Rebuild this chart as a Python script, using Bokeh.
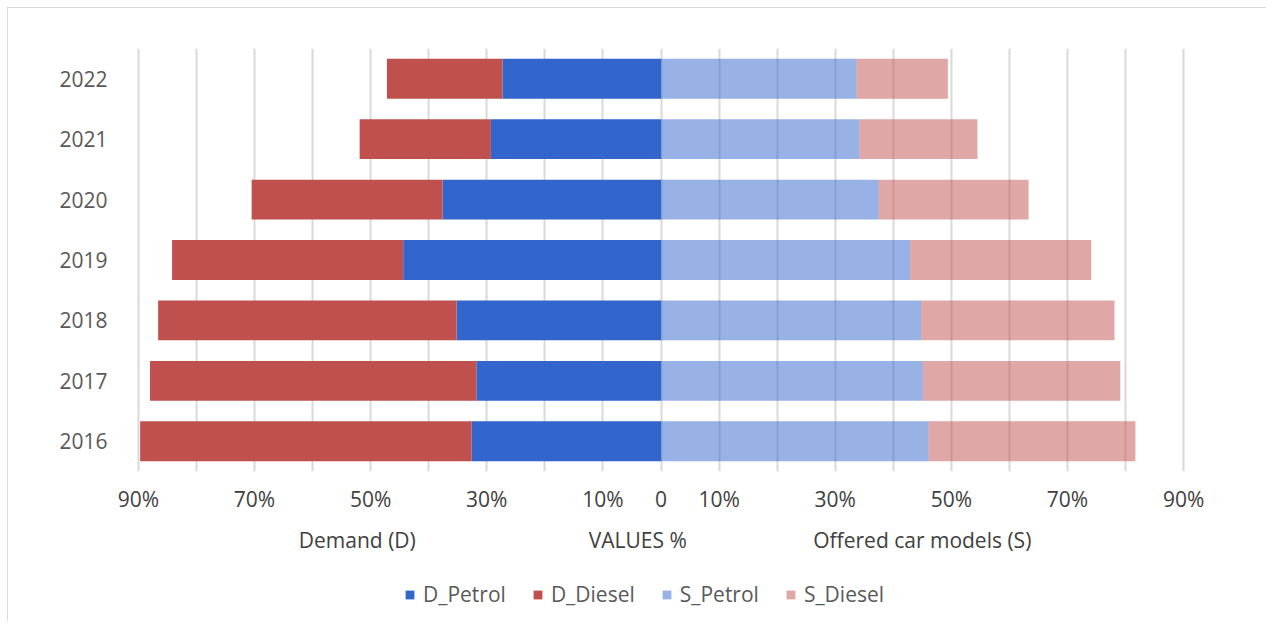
from bokeh.plotting import figure
from bokeh.layouts import column
from bokeh.models import (FactorRange, Range1d, FixedTicker, CustomJSTickFormatter,
                          LinearAxis, Legend, LegendItem, ColumnDataSource)
from bokeh.embed import file_html
from bokeh.resources import INLINE

# ---- data (percent) ----
years = ["2016", "2017", "2018", "2019", "2020", "2021", "2022"]
d_petrol = [32.6, 31.8, 35.2, 44.4, 37.6, 29.3, 27.3]
d_diesel = [57.1, 56.2, 51.4, 39.8, 32.9, 22.6, 19.9]
s_petrol = [46.1, 45.1, 44.8, 42.9, 37.5, 34.2, 33.7]
s_diesel = [35.6, 34.0, 33.3, 31.2, 25.8, 20.3, 15.7]

series_names = ["D_Petrol", "D_Diesel", "S_Petrol", "S_Diesel"]
tick_values = [-90, -70, -50, -30, -10, 0, 10, 30, 50, 70, 90]
grid_values = list(range(-90, 91, 10))
title_labels = ["Demand (D)", "VALUES %", "Offered car models (S)"]
title_positions = [-52.3, -4.0, 45.0]

C_PETROL = "#3366CC"
C_DIESEL = "#C0504D"
FONT = "Open Sans"
FS = "21px"

src = ColumnDataSource(dict(
    year=years,
    d_petrol=[-v for v in d_petrol],
    d_diesel=[-v for v in d_diesel],
    s_petrol=s_petrol,
    s_diesel=s_diesel,
))

p = figure(frame_width=1051, frame_height=423, output_backend="svg", toolbar_location=None,
           y_range=FactorRange(factors=years, range_padding=0),
           x_range=Range1d(-90.5, 90.5),
           min_border_left=127, min_border_right=80,
           min_border_top=40, min_border_bottom=100)
p.outline_line_color = None
p.background_fill_color = "white"
p.border_fill_color = "white"

left = p.hbar_stack(["d_petrol", "d_diesel"], y="year", height=0.66, source=src,
                    color=[C_PETROL, C_DIESEL], line_color=None)
right = p.hbar_stack(["s_petrol", "s_diesel"], y="year", height=0.66, source=src,
                     fill_color=[C_PETROL, C_DIESEL], fill_alpha=0.5, line_color=None)

# grid
p.ygrid.grid_line_color = None
p.xgrid.ticker = FixedTicker(ticks=grid_values)
p.xgrid.grid_line_color = "#D9D9D9"
p.xgrid.grid_line_width = 2

# x axis (tick labels)
xa = p.xaxis[0]
xa.ticker = FixedTicker(ticks=tick_values)
xa.formatter = CustomJSTickFormatter(code="return tick == 0 ? '0' : Math.abs(tick) + '%';")
xa.axis_line_color = None
xa.major_tick_line_color = None
xa.minor_tick_line_color = None
xa.major_label_text_font = FONT
xa.major_label_text_font_size = FS
xa.major_label_text_color = "#404040"
xa.major_label_standoff = 7

# axis titles as second axis
ta = LinearAxis(ticker=FixedTicker(ticks=title_positions),
                formatter=CustomJSTickFormatter(args=dict(labels=title_labels),
                                                code="return labels[index];"))
ta.axis_line_color = None
ta.major_tick_line_color = None
ta.minor_tick_line_color = None
ta.major_label_text_font = FONT
ta.major_label_text_font_size = FS
ta.major_label_text_color = "#404040"
ta.major_label_standoff = 4
p.add_layout(ta, "below")

# y axis
ya = p.yaxis[0]
ya.axis_line_color = None
ya.major_tick_line_color = None
ya.minor_tick_line_color = None
ya.major_label_text_font = FONT
ya.major_label_text_font_size = FS
ya.major_label_text_color = "#595959"
ya.major_label_standoff = 22

# legend strip (separate figure so it is not clipped by the bar frame)
lg = figure(width=1258, height=50, output_backend="svg", toolbar_location=None,
            x_range=Range1d(0, 1), y_range=Range1d(0, 1), min_border=0)
lg.axis.visible = False
lg.grid.visible = False
lg.outline_line_color = None
lg.border_fill_color = "white"
legend_colors = [C_PETROL, C_DIESEL, C_PETROL, C_DIESEL]
legend_alphas = [1.0, 1.0, 0.5, 0.5]
items = []
for name, c, a in zip(series_names, legend_colors, legend_alphas):
    # legend swatch only: the single bar lies outside the strip's visible range
    r = lg.hbar(y=[-5], left=[0], right=[1], height=0.5, fill_color=c, fill_alpha=a,
                line_color=None)
    items.append(LegendItem(label=name, renderers=[r]))
legend = Legend(items=items, orientation="horizontal", location=(269, 13))
legend.label_text_font = FONT
legend.label_text_font_size = FS
legend.label_text_color = "#595959"
legend.glyph_width = 11
legend.glyph_height = 11
legend.label_standoff = 8
legend.spacing = 26
legend.border_line_color = None
legend.background_fill_alpha = 0
legend.margin = 0
legend.padding = 0
lg.add_layout(legend, "center")

layout = column(p, lg, spacing=0)
layout.styles = {"border-top": "1px solid #D9D9D9", "border-left": "1px solid #D9D9D9",
                 "margin-left": "7px", "margin-top": "7px"}

open("out.html", "w").write(file_html(layout, INLINE))
